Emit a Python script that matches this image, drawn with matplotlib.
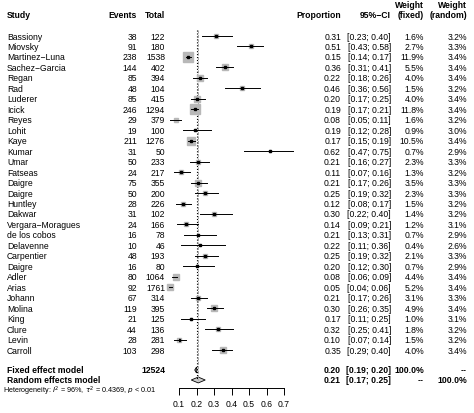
import matplotlib
matplotlib.use("Agg")
import matplotlib.pyplot as plt
import numpy as np
from matplotlib.patches import Polygon

plt.rcParams['font.family'] = ['Liberation Sans', 'DejaVu Sans']

studies = ["Bassiony","Miovsky","Martinez\u2212Luna","Sachez\u2212Garcia","Regan","Rad","Luderer","Icick","Reyes","Lohit",
           "Kaye","Kumar","Umar","Fatseas","Daigre","Daigre","Huntley","Dakwar","Vergara\u2212Moragues","de los cobos",
           "Delavenne","Carpentier","Daigre","Adler","Arias","Johann","Molina","King","Clure","Levin","Carroll"]
events = [38,91,238,144,85,48,85,246,29,19,211,31,50,24,75,50,28,31,24,16,10,48,16,80,92,67,119,21,44,28,103]
totals = [122,180,1538,402,394,104,415,1294,379,100,1276,50,233,217,355,200,226,102,166,78,46,193,80,1064,1761,314,395,125,136,281,298]
props = [0.31,0.51,0.15,0.36,0.22,0.46,0.20,0.19,0.08,0.19,0.17,0.62,0.21,0.11,0.21,0.25,0.12,0.30,0.14,0.21,0.22,0.25,0.20,0.08,0.05,0.21,0.30,0.17,0.32,0.10,0.35]
lower = [0.23,0.43,0.14,0.31,0.18,0.36,0.17,0.17,0.05,0.12,0.15,0.47,0.16,0.07,0.17,0.19,0.08,0.22,0.09,0.13,0.11,0.19,0.12,0.06,0.04,0.17,0.26,0.11,0.25,0.07,0.29]
upper = [0.40,0.58,0.17,0.41,0.26,0.56,0.25,0.21,0.11,0.28,0.19,0.75,0.27,0.16,0.26,0.32,0.17,0.40,0.21,0.31,0.36,0.32,0.30,0.09,0.06,0.26,0.35,0.25,0.41,0.14,0.40]
w_fixed = [1.6,2.7,11.9,5.5,4.0,1.5,4.0,11.8,1.6,0.9,10.5,0.7,2.3,1.3,3.5,2.3,1.5,1.4,1.2,0.7,0.4,2.1,0.7,4.4,5.2,3.1,4.9,1.0,1.8,1.5,4.0]
w_random = [3.2,3.3,3.4,3.4,3.4,3.2,3.4,3.4,3.2,3.0,3.4,2.9,3.3,3.2,3.3,3.3,3.2,3.2,3.1,2.9,2.6,3.3,2.9,3.4,3.4,3.3,3.4,3.1,3.2,3.2,3.4]
fixed_est, fixed_lo, fixed_hi = 0.20, 0.19, 0.20
rand_est, rand_lo, rand_hi = 0.21, 0.17, 0.25
total_n = 12524
xticks = [0.1,0.2,0.3,0.4,0.5,0.6,0.7]

W, H = 474, 414
fig = plt.figure(figsize=(W/100, H/100), dpi=100)
ax = fig.add_axes([0, 0, 1, 1])
ax.set_xlim(0, W); ax.set_ylim(H, 0); ax.axis('off')

fs = 6.2
y0, dy = 37, 10.47
def rowy(i): return y0 + i*dy

def t(x, y, s, ha='left', bold=False, size=fs):
    ax.text(x, y, s, fontsize=size, va='center', ha=ha, fontweight='bold' if bold else 'normal')

hy = 16
t(7, hy, "Study", bold=True)
t(137, hy, "Events", 'right', True)
t(165, hy, "Total", 'right', True)
t(341, hy, "Proportion", 'right', True)
t(391, hy, "95%\u2212CI", 'right', True)
t(424, 6, "Weight", 'right', True)
t(424, hy, "(fixed)", 'right', True)
t(467, 6, "Weight", 'right', True)
t(467, hy, "(random)", 'right', True)

for i, s in enumerate(studies):
    y = rowy(i)
    t(7, y, s)
    t(137, y, str(events[i]), 'right')
    t(165, y, str(totals[i]), 'right')
    t(341, y, f"{props[i]:.2f}", 'right')
    t(391, y, f"[{lower[i]:.2f}; {upper[i]:.2f}]", 'right')
    t(424, y, f"{w_fixed[i]:.1f}%", 'right')
    t(467, y, f"{w_random[i]:.1f}%", 'right')

yf, yr = 371, 381
t(7, yf, "Fixed effect model", bold=True)
t(165, yf, str(total_n), 'right', True)
t(341, yf, f"{fixed_est:.2f}", 'right', True)
t(391, yf, f"[{fixed_lo:.2f}; {fixed_hi:.2f}]", 'right', True)
t(424, yf, "100.0%", 'right', True)
t(467, yf, "--", 'right', True)
t(7, yr, "Random effects model", bold=True)
t(341, yr, f"{rand_est:.2f}", 'right', True)
t(391, yr, f"[{rand_lo:.2f}; {rand_hi:.2f}]", 'right', True)
t(424, yr, "--", 'right', True)
t(467, yr, "100.0%", 'right', True)
t(3, 391, r"Heterogeneity: $I^2$ = 96%, $\tau^2$ = 0.4369, $p$ < 0.01", size=5.2)

axbot = 389
fa = fig.add_axes([179/W, 1-axbot/H, 105/W, axbot/H])
fa.patch.set_alpha(0)
fa.set_xlim(0.1, 0.7)
fa.set_ylim((axbot-y0)/dy, -y0/dy)
for sp in ['top','right','left']:
    fa.spines[sp].set_visible(False)
fa.spines['bottom'].set_linewidth(0.7)
fa.set_yticks([])
fa.set_xticks(xticks)
fa.set_xticklabels([f"{v:.1f}" for v in xticks], fontsize=fs)
fa.tick_params(axis='x', length=5, width=0.7, pad=3)

idx = np.arange(len(studies))
fi = (yf-y0)/dy; ri = (yr-y0)/dy
fa.plot([fixed_est, fixed_est], [-0.6, fi+0.9], ls=':', color='black', lw=0.8)
fa.plot([rand_est, rand_est], [-0.6, ri], ls='--', color='#999999', lw=0.6)
for i in idx:
    fa.plot([lower[i], upper[i]], [i, i], color='black', lw=0.7, clip_on=False, zorder=3)
    side = 9.5*np.sqrt(w_fixed[i]/max(w_fixed))*0.72
    fa.plot(props[i], i, marker='s', ms=side, color='#b8b8b8', mec='#b8b8b8', zorder=2, clip_on=False)
    fa.plot(props[i], i, marker='s', ms=1.5, color='black', zorder=4)
h = 0.28
fa.add_patch(Polygon([[fixed_lo, fi],[fixed_est, fi-h],[fixed_hi+0.003, fi],[fixed_est, fi+h]], closed=True,
                     fc='#888888', ec='black', lw=0.6))
fa.add_patch(Polygon([[rand_lo, ri],[rand_est, ri-h],[rand_hi, ri],[rand_est, ri+h]], closed=True,
                     fc='#cccccc', ec='black', lw=0.6))

fig.savefig("out.png", dpi=100)
